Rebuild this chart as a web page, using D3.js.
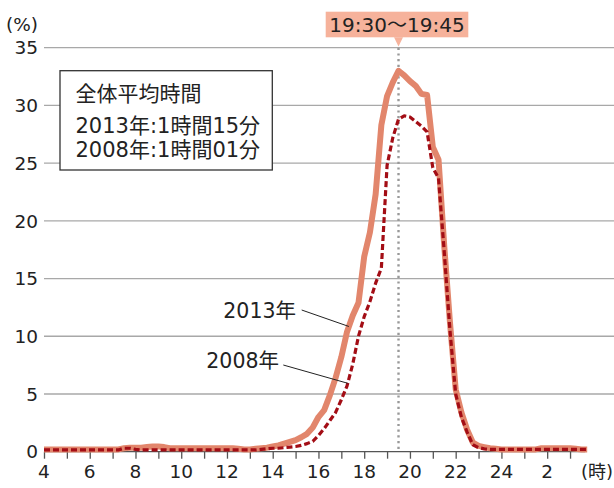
<!DOCTYPE html>
<html lang="ja">
<head>
<meta charset="utf-8">
<script src="https://cdn.jsdelivr.net/npm/d3@7"></script>
<style>
  html, body { margin: 0; padding: 0; background: #fff; }
  svg { display: block; font-family: "DejaVu Sans", "Noto Sans CJK JP", sans-serif; }
</style>
</head>
<body>
<svg id="chart" width="614" height="488"></svg>
<script>
// Share of viewers by time of day, 15-minute bins from 4:00 to 27:45 (=3:45 next day)
const startHour = 4;
const stepHour = 0.25;

const share2013 = [
  0.2, 0.2, 0.2, 0.2, 0.2, 0.2, 0.2, 0.2, 0.2, 0.2, 0.2, 0.2, 0.2, 0.2,
  0.3, 0.35, 0.35, 0.35, 0.4, 0.45, 0.45, 0.4, 0.3,
  0.3, 0.3, 0.3, 0.3, 0.3, 0.3, 0.3, 0.3, 0.3, 0.3, 0.3,
  0.25, 0.2, 0.2, 0.25, 0.3, 0.35, 0.45, 0.55, 0.7, 0.85,
  1.0, 1.25, 1.55, 2.1, 3.0, 3.6, 4.9, 6.4, 8.2, 10.4, 11.8, 12.9,
  16.9, 19.0, 22.3, 28.3, 30.8, 32.0, 33.0, 32.6, 32.1, 31.7, 31.0, 30.9,
  26.4, 25.3, 17.8, 11.2, 5.4, 3.4, 1.9, 0.8, 0.5, 0.4, 0.3, 0.25,
  0.2, 0.2, 0.2, 0.2, 0.2, 0.2, 0.2,
  0.3, 0.3, 0.3, 0.3, 0.3, 0.3,
  0.25, 0.2, 0.2
];

const share2008 = [
  0.15, 0.15, 0.15, 0.15, 0.15, 0.15, 0.15, 0.15, 0.15, 0.15, 0.15, 0.15, 0.15, 0.15,
  0.3, 0.3, 0.2,
  0.15, 0.15, 0.15, 0.15, 0.15, 0.15, 0.15, 0.15, 0.15, 0.15, 0.15,
  0.15, 0.15, 0.15, 0.15, 0.15, 0.15, 0.15, 0.15, 0.15, 0.15,
  0.2, 0.25, 0.3, 0.3, 0.35, 0.4, 0.45, 0.55, 0.7, 0.9,
  1.4, 2.0, 2.7, 3.4, 4.5, 5.7, 7.6, 10.0, 11.7, 13.0, 14.6, 15.9,
  24.8, 27.2, 28.8, 29.1, 29.0, 28.6, 28.2, 27.7,
  24.6, 23.7, 17.3, 10.5, 5.0, 3.0, 1.7, 0.6, 0.35, 0.25, 0.2,
  0.2, 0.2, 0.2, 0.2, 0.2, 0.2, 0.2, 0.2, 0.2, 0.2, 0.2, 0.2, 0.2, 0.2, 0.2, 0.2, 0.2
];

const yTicks = [0, 5, 10, 15, 20, 25, 30, 35];
const xLabelHours = [4, 6, 8, 10, 12, 14, 16, 18, 20, 22, 24, 26];
const xLabelText = ["4", "6", "8", "10", "12", "14", "16", "18", "20", "22", "24", "2"];
const xTickHours = d3.range(4, 28);

const legendLines = ["全体平均時間", "2013年:1時間15分", "2008年:1時間01分"];
const peakHour = 19.5;
const peakLabel = "19:30～19:45";
const seriesNames = ["2013年", "2008年"];

const svg = d3.select("#chart");

const x = d3.scaleLinear().domain([4, 27.75]).range([44, 587.2]);
const y = d3.scaleLinear().domain([0, 35]).range([451.7, 47.7]);

// horizontal grid
svg.append("g")
  .selectAll("line")
  .data(yTicks.filter(d => d > 0))
  .join("line")
  .attr("x1", x(4)).attr("x2", 614)
  .attr("y1", d => y(d)).attr("y2", d => y(d))
  .attr("stroke", "#a8a8a8").attr("stroke-width", 1.3);

// y tick labels
svg.append("g")
  .selectAll("text")
  .data(yTicks)
  .join("text")
  .attr("x", 38).attr("y", d => y(d))
  .attr("dy", "0.36em")
  .attr("text-anchor", "end")
  .attr("font-size", 18.5)
  .attr("fill", "#222")
  .text(d => d);

svg.append("text")
  .attr("x", 6).attr("y", 31)
  .attr("font-size", 18.5)
  .attr("fill", "#222")
  .text("(%)");

// x axis
const xAxis = d3.axisBottom(x)
  .tickValues(xTickHours)
  .tickSize(7)
  .tickFormat("");
const gx = svg.append("g")
  .attr("transform", `translate(0,${y(0)})`)
  .call(xAxis);
gx.select(".domain").attr("stroke", "#555").attr("stroke-width", 1.3).attr("d", `M${x(4)},0H${x(27.75) - 2}`);
gx.selectAll(".tick line").attr("stroke", "#555").attr("stroke-width", 1.3);

svg.append("g")
  .selectAll("text")
  .data(xLabelHours)
  .join("text")
  .attr("x", d => x(d))
  .attr("y", 478)
  .attr("text-anchor", "middle")
  .attr("font-size", 18.5)
  .attr("fill", "#222")
  .text((d, i) => xLabelText[i]);

svg.append("text")
  .attr("x", 613).attr("y", 478)
  .attr("text-anchor", "end")
  .attr("font-size", 18)
  .attr("fill", "#222")
  .text("(時)");

// peak marker
svg.append("line")
  .attr("x1", x(peakHour)).attr("x2", x(peakHour))
  .attr("y1", y(35)).attr("y2", y(0))
  .attr("stroke", "#999")
  .attr("stroke-width", 2.4)
  .attr("stroke-dasharray", "2.2 3.5");

// series lines
const line = d3.line()
  .x((d, i) => x(startHour + i * stepHour))
  .y(d => y(d));

svg.append("path")
  .datum(share2013)
  .attr("d", line)
  .attr("fill", "none")
  .attr("stroke", "#e2866c")
  .attr("stroke-width", 6)
  .attr("stroke-linejoin", "round");

svg.append("path")
  .datum(share2008)
  .attr("d", line)
  .attr("fill", "none")
  .attr("stroke", "#a30d15")
  .attr("stroke-width", 3.2)
  .attr("stroke-dasharray", "6 3")
  .attr("stroke-linejoin", "round");

// peak label
const lab = svg.append("g");
lab.append("rect")
  .attr("x", 325.7).attr("y", 11.7)
  .attr("width", 142.6).attr("height", 25.6)
  .attr("fill", "#f6b29b");
lab.append("path")
  .attr("d", `M${x(peakHour) - 4.5},37.3L${x(peakHour) + 4.5},37.3L${x(peakHour)},46.5Z`)
  .attr("fill", "#f6b29b");
lab.append("text")
  .attr("x", 397).attr("y", 31.5)
  .attr("text-anchor", "middle")
  .attr("font-size", 20)
  .attr("fill", "#222")
  .text(peakLabel);

// legend box
const lg = svg.append("g");
lg.append("rect")
  .attr("x", 60).attr("y", 70.7)
  .attr("width", 212.3).attr("height", 99.3)
  .attr("fill", "#fff")
  .attr("stroke", "#333").attr("stroke-width", 1.3);
lg.selectAll("text")
  .data(legendLines)
  .join("text")
  .attr("x", 75.5)
  .attr("y", (d, i) => [100.5, 133, 157][i])
  .attr("font-size", 21)
  .attr("fill", "#222")
  .text(d => d);

// series callouts
const callouts = [
  { name: seriesNames[0], tx: 296, ty: 318, x1: 301.7, y1: 310, hour: 17.33, series: share2013 },
  { name: seriesNames[1], tx: 279, ty: 368, x1: 283.3, y1: 365, hour: 17.28, series: share2008 }
];
callouts.forEach(c => {
  const i0 = Math.floor((c.hour - startHour) / stepHour);
  const t = (c.hour - startHour) / stepHour - i0;
  const v = c.series[i0] * (1 - t) + c.series[i0 + 1] * t;
  svg.append("line")
    .attr("x1", c.x1).attr("y1", c.y1)
    .attr("x2", x(c.hour)).attr("y2", y(v))
    .attr("stroke", "#222").attr("stroke-width", 1);
  svg.append("text")
    .attr("x", c.tx).attr("y", c.ty)
    .attr("text-anchor", "end")
    .attr("font-size", 20.5)
    .attr("fill", "#222")
    .text(c.name);
});
</script>
</body>
</html>
